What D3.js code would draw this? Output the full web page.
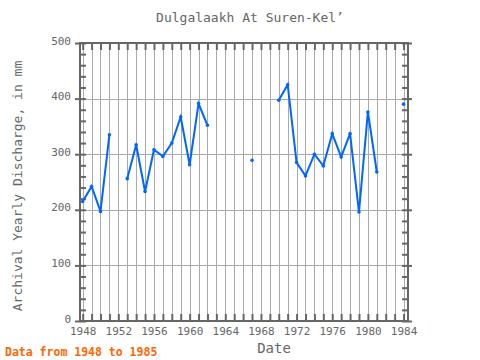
<!DOCTYPE html>
<html><head><meta charset="utf-8">
<script src="https://cdn.jsdelivr.net/npm/d3@7"></script>
<style>body{margin:0;background:#fff}svg{display:block}text{font-family:"DejaVu Sans Mono",monospace}</style>
</head><body>
<script>
const years = [1948,1949,1950,1951,1952,1953,1954,1955,1956,1957,1958,1959,1960,1961,1962,1963,1964,1965,1966,1967,1968,1969,1970,1971,1972,1973,1974,1975,1976,1977,1978,1979,1980,1981,1982,1983,1984];
const discharge = [215,242,197,335,null,256,317,233,308,296,320,367,281,391,352,null,null,null,null,289,null,null,397,425,285,261,300,279,337,295,337,196,376,268,null,null,390];
const xTicks = [1948,1952,1956,1960,1964,1968,1972,1976,1980,1984];
const yTicks = [0,100,200,300,400,500];

const W=480,H=360, L=80, R=408, T=43, B=321;
const svg=d3.select("body").append("svg").attr("width",W).attr("height",H);
const x=d3.scaleLinear().domain([1947.7,1984.5]).range([L,R]);
const y=d3.scaleLinear().domain([0,500]).range([B,T]);
const grey="#666";

// grid
const g=svg.append("g");
g.selectAll(".vg").data(d3.range(1948,1985)).enter().append("line")
 .attr("x1",d=>Math.round(x(d))+0.5).attr("x2",d=>Math.round(x(d))+0.5).attr("y1",T).attr("y2",B)
 .attr("stroke","#aaa").attr("stroke-width",1);
g.selectAll(".hg").data(yTicks).enter().append("line")
 .attr("y1",d=>Math.round(y(d))+0.5).attr("y2",d=>Math.round(y(d))+0.5).attr("x1",L).attr("x2",R)
 .attr("stroke","#aaa").attr("stroke-width",1);

// axes ticks
const minor=d3.range(0,501,20);
const axL=d3.axisLeft(y).tickValues(minor).tickSize(-6).tickFormat("");
const axR=d3.axisRight(y).tickValues(minor).tickSize(-6).tickFormat("");
const axB=d3.axisBottom(x).tickValues(d3.range(1948,1985)).tickSize(-7).tickFormat("");
const axT=d3.axisTop(x).tickValues(d3.range(1948,1985)).tickSize(-7).tickFormat("");
[[axL,`translate(${L},0)`],[axR,`translate(${R},0)`],[axB,`translate(0,${B})`],[axT,`translate(0,${T})`]].forEach(([a,t])=>{
  const s=svg.append("g").attr("transform",t).call(a);
  s.select(".domain").remove();
  s.selectAll("line").attr("stroke",grey).attr("stroke-width",2);
});
// major outward ticks & labels
const ly=svg.append("g").attr("transform",`translate(${L},0)`).call(d3.axisLeft(y).tickValues(yTicks).tickSize(5).tickPadding(4));
ly.select(".domain").remove();
ly.selectAll("line").attr("stroke",grey).attr("stroke-width",2);
ly.selectAll("text").attr("fill",grey).style("font-size","11px").attr("dy","0.1em");
const ry=svg.append("g").attr("transform",`translate(${R},0)`).call(d3.axisRight(y).tickValues(yTicks).tickSize(4).tickFormat(""));
ry.select(".domain").remove();
ry.selectAll("line").attr("stroke",grey).attr("stroke-width",2);
const lx=svg.append("g").attr("transform",`translate(0,${B})`).call(d3.axisBottom(x).tickValues(xTicks).tickSize(0).tickPadding(6).tickFormat(d3.format("d")));
lx.select(".domain").remove();
lx.selectAll("text").attr("fill",grey).style("font-size","11px");

// frame
svg.append("rect").attr("x",L).attr("y",T).attr("width",R-L).attr("height",B-T)
 .attr("fill","none").attr("stroke",grey).attr("stroke-width",2);

// data
const pts=years.map((d,i)=>({year:d,v:discharge[i]}));
const line=d3.line().defined(d=>d.v!=null).x(d=>x(d.year)).y(d=>y(d.v));
svg.append("path").datum(pts).attr("d",line).attr("fill","none").attr("stroke","#0066ff").attr("stroke-width",2);
svg.selectAll(".pt").data(pts.filter(d=>d.v!=null)).enter().append("circle")
 .attr("cx",d=>x(d.year)).attr("cy",d=>y(d.v)).attr("r",1.8).attr("fill","#0066ff");

// text
svg.append("text").attr("x",250).attr("y",22).attr("text-anchor","middle").attr("fill",grey).style("font-size","13px").text("Dulgalaakh At Suren-Kel’");
svg.append("text").attr("transform","translate(22,186) rotate(-90)").attr("text-anchor","middle").attr("fill",grey).style("font-size","13px").text("Archival Yearly Discharge, in mm");
svg.append("text").attr("x",274).attr("y",353).attr("text-anchor","middle").attr("fill",grey).style("font-size","14px").text("Date");
svg.append("text").attr("x",5).attr("y",356).attr("fill","#ff6600").style("font-size","11.5px").style("font-weight","bold").text("Data from 1948 to 1985");
</script>
</body></html>
